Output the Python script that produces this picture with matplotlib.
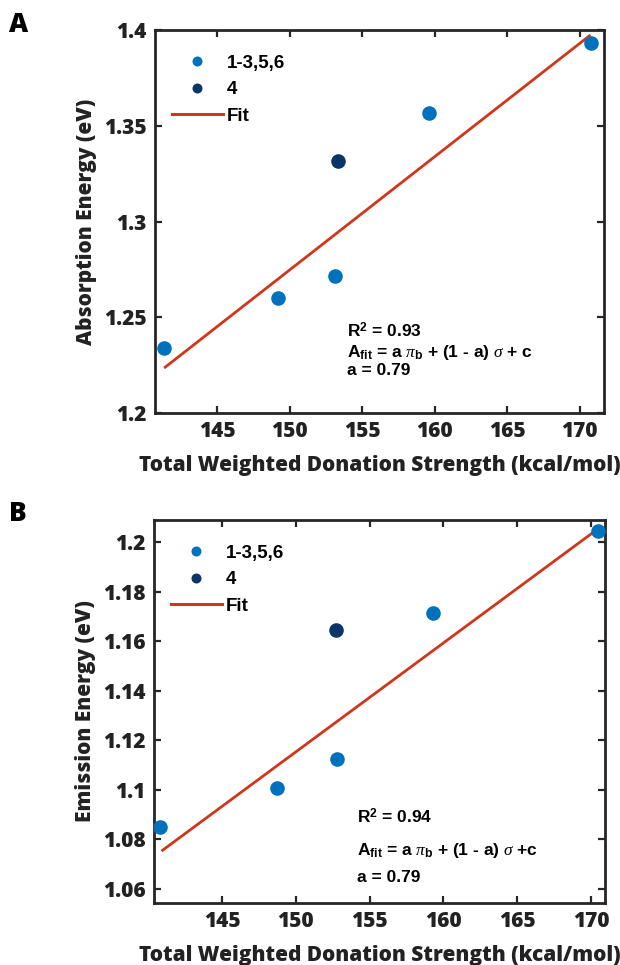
import numpy as np
import matplotlib
matplotlib.use("Agg")
from matplotlib import pyplot as plt
from matplotlib.lines import Line2D

plt.rcParams['mathtext.fontset'] = 'custom'
plt.rcParams['mathtext.rm'] = 'Liberation Sans:bold'
plt.rcParams['mathtext.bf'] = 'Liberation Sans:bold'
plt.rcParams['mathtext.it'] = 'Liberation Serif:italic'

# panel A: absorption
absx_main = [141.3, 149.2, 153.1, 159.6, 170.75]
absy_main = [1.234, 1.2603, 1.2718, 1.3565, 1.393]
absx_4 = [153.3]
absy_4 = [1.3318]
absfit_x = [141.33, 170.74]
absfit_y = [1.2235, 1.3974]

# panel B: emission
emx_main = [140.8, 148.7, 152.8, 159.3, 170.45]
emy_main = [1.085, 1.1005, 1.1123, 1.1713, 1.2045]
emx_4 = [152.75]
emy_4 = [1.1645]
emfit_x = [140.9, 170.4]
emfit_y = [1.0752, 1.2051]

xticks = [145, 150, 155, 160, 165, 170]
abs_yticks = [1.2, 1.25, 1.3, 1.35, 1.4]
abs_yticklabels = ['1.2', '1.25', '1.3', '1.35', '1.4']
em_yticks = [1.06, 1.08, 1.1, 1.12, 1.14, 1.16, 1.18, 1.2]
em_yticklabels = ['1.06', '1.08', '1.1', '1.12', '1.14', '1.16', '1.18', '1.2']

c_main = '#0072BD'
c_4 = '#0B3468'
c_fit = '#D0361A'
c_ax = '#262626'
lab_font = dict(family='Open Sans', weight='heavy')

W, H = 620, 965
fig = plt.figure(figsize=(W / 100, H / 100), dpi=100)


def px(x, y):
    return x / W, 1 - y / H


def panel(rect, xm, ym, x4, y4, fx, fy, xlim, ylim, yt, ytl, ylabel):
    ax = fig.add_axes(rect)
    ax.plot(fx, fy, '-', color=c_fit, lw=2.0, zorder=2, solid_capstyle='butt')
    ax.plot(xm, ym, 'o', color=c_main, ms=10.5, mew=0, zorder=3)
    ax.plot(x4, y4, 'o', color=c_4, ms=10.5, mew=0, zorder=3)
    ax.set_xlim(xlim)
    ax.set_ylim(ylim)
    ax.set_xticks(xticks)
    ax.set_xticklabels([str(t) for t in xticks], **lab_font, fontsize=15)
    ax.set_yticks(yt)
    ax.set_yticklabels(ytl, **lab_font, fontsize=15)
    ax.tick_params(direction='in', length=5, width=1.6, color=c_ax,
                   top=True, right=True, pad=6, labelcolor='#222222')
    for s in ax.spines.values():
        s.set_linewidth(2.0)
        s.set_color(c_ax)
    ax.set_xlabel('Total Weighted Donation Strength (kcal/mol)', **lab_font,
                  fontsize=15.0, color='#222222', labelpad=9)
    ax.set_ylabel(ylabel, **lab_font, fontsize=15.0, color='#222222', labelpad=5)
    handles = [Line2D([], [], ls='', marker='o', color=c_main, ms=7.2, mew=0),
               Line2D([], [], ls='', marker='o', color=c_4, ms=7.2, mew=0),
               Line2D([], [], color=c_fit, lw=2.2)]
    ax.legend(handles, ['1-3,5,6', '4', 'Fit'], loc='upper left',
              bbox_to_anchor=(-0.0, 0.98), frameon=False, handlelength=2.7,
              handletextpad=0.25, labelspacing=0.5,
              prop=dict(family='Liberation Sans', weight='bold', size=13.5))
    return ax


axA = panel([155 / W, 1 - 413 / H, (604 - 155) / W, (413 - 30) / H],
            absx_main, absy_main, absx_4, absy_4, absfit_x, absfit_y,
            (140.7, 171.67), (1.2, 1.4), abs_yticks, abs_yticklabels,
            'Absorption Energy (eV)')
axB = panel([154 / W, 1 - 903 / H, (605 - 154) / W, (903 - 520) / H],
            emx_main, emy_main, emx_4, emy_4, emfit_x, emfit_y,
            (140.39, 170.95), (1.0542, 1.209), em_yticks, em_yticklabels,
            'Emission Energy (eV)')

ann = dict(family='Liberation Sans', weight='bold', size=12.5, color='black',
           va='baseline', ha='left')
fig.text(*px(347, 337), r'R$^{2}$ = 0.93', **ann)
fig.text(*px(347, 357), r'A$_{\mathrm{fit}}$ = a $\pi_{\mathrm{b}}$ + (1 - a) $\sigma$ + c', **ann)
fig.text(*px(347, 375), 'a = 0.79', **ann)
fig.text(*px(357, 823), r'R$^{2}$ = 0.94', **ann)
fig.text(*px(357, 855), r'A$_{\mathrm{fit}}$ = a $\pi_{\mathrm{b}}$ + (1 - a) $\sigma$ +c', **ann)
fig.text(*px(357, 882), 'a = 0.79', **ann)

fig.text(*px(9, 32), 'A', family='Open Sans', weight='heavy', size=19, va='baseline')
fig.text(*px(9, 521), 'B', family='Open Sans', weight='heavy', size=19, va='baseline')

fig.savefig('out.png', dpi=100)
